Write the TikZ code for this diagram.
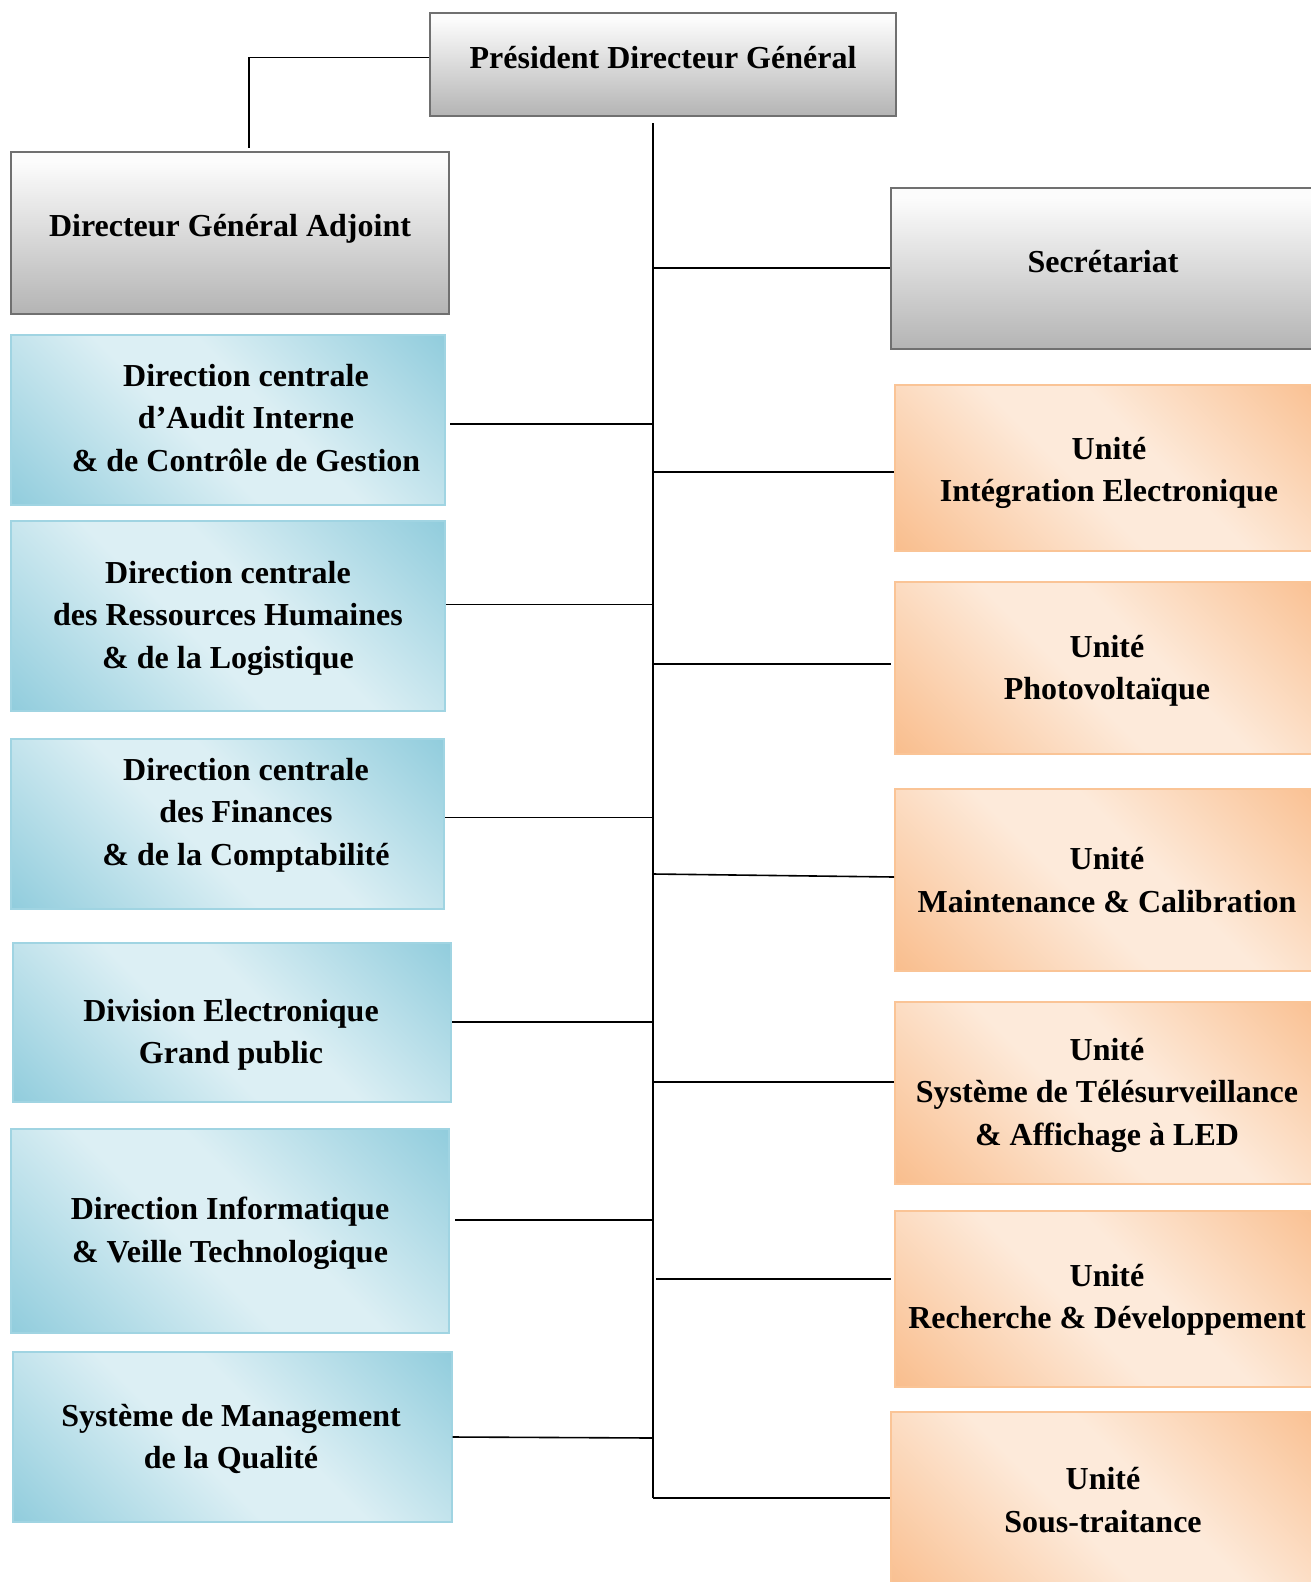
\documentclass[tikz,border=0pt]{standalone}
\usepackage{fontspec}
\setmainfont{Liberation Serif}
\definecolor{gtop}{RGB}{252,252,252}
\definecolor{gbot}{RGB}{154,154,154}
\definecolor{gline}{RGB}{112,112,112}
\definecolor{bdark}{RGB}{146,205,221}
\definecolor{blight}{RGB}{220,239,244}
\definecolor{bline}{RGB}{160,212,226}
\definecolor{odark}{RGB}{249,190,142}
\definecolor{olight}{RGB}{253,234,218}
\definecolor{oline}{RGB}{250,196,150}
\pgfdeclareverticalshading{grayfade}{100bp}{color(0bp)=(gbot); color(8bp)=(gbot); color(72bp)=(gtop); color(100bp)=(gtop)}
\pgfdeclareverticalshading{blueband}{100bp}{color(0bp)=(bdark); color(15bp)=(bdark); color(44bp)=(blight); color(56bp)=(blight); color(85bp)=(bdark); color(100bp)=(bdark)}
\pgfdeclareverticalshading{orangeband}{100bp}{color(0bp)=(odark); color(15bp)=(odark); color(44bp)=(olight); color(56bp)=(olight); color(85bp)=(odark); color(100bp)=(odark)}
\tikzset{
  graybox/.style={draw=gline, line width=2pt, shade, shading=grayfade, inner sep=0pt},
  bluebox/.style={draw=bline, line width=2pt, shade, shading=blueband, shading angle=-45, inner sep=0pt},
  orangebox/.style={draw=oline, line width=2pt, shade, shading=orangeband, shading angle=-45, inner sep=0pt},
  txt/.style={align=center, inner sep=0pt, font=\fontsize{32}{42.5}\selectfont\bfseries},
  conn/.style={draw=black, line width=1.6pt}
}
\begin{document}
\begin{tikzpicture}[x=1pt,y=-1pt]
\useasboundingbox (0,0) rectangle (1311,1582);
\clip (0,0) rectangle (1311,1582);
% boxes
\node[graybox, minimum width=466pt, minimum height=103pt] (pdg) at (663,64.5) {};
\node[graybox, minimum width=438pt, minimum height=162pt] (dga) at (230,233) {};
\node[graybox, minimum width=460pt, minimum height=161pt] (sec) at (1121,268.5) {};
\node[bluebox, minimum width=434pt, minimum height=170pt] (b1) at (228,420) {};
\node[bluebox, minimum width=434pt, minimum height=190pt] (b2) at (228,616) {};
\node[bluebox, minimum width=433pt, minimum height=170pt] (b3) at (227.5,824) {};
\node[bluebox, minimum width=438pt, minimum height=159pt] (b4) at (232,1022.5) {};
\node[bluebox, minimum width=438pt, minimum height=204pt] (b5) at (230,1231) {};
\node[bluebox, minimum width=439pt, minimum height=170pt] (b6) at (232,1437) {};
\node[orangebox, minimum width=440pt, minimum height=166pt] (o1) at (1115,468) {};
\node[orangebox, minimum width=440pt, minimum height=172pt] (o2) at (1115,668) {};
\node[orangebox, minimum width=440pt, minimum height=182pt] (o3) at (1115,880) {};
\node[orangebox, minimum width=440pt, minimum height=182pt] (o4) at (1115,1093) {};
\node[orangebox, minimum width=440pt, minimum height=176pt] (o5) at (1115,1299) {};
\node[orangebox, minimum width=444pt, minimum height=188pt] (o6) at (1113,1506) {};
% texts
\node[txt] (tpdg) at (663,58) {Président Directeur Général};
\node[txt] (tdga) at (230,229) {Directeur Général Adjoint};
\node[txt] (tsec) at (1103,262) {Secrétariat};
\node[txt] (tb1) at (246,418) {Direction centrale\\d’Audit Interne\\\& de Contrôle de Gestion};
\node[txt] (tb2) at (228,618) {Direction centrale\\des Ressources Humaines\\\& de la Logistique};
\node[txt] (tb3) at (246,815) {Direction centrale\\des Finances\\\& de la Comptabilité};
\node[txt] (tb4) at (231,1035) {Division Electronique\\Grand public};
\node[txt] (tb5) at (230,1233) {Direction Informatique\\\& Veille Technologique};
\node[txt] (tb6) at (231,1439) {Système de Management\\de la Qualité};
\node[txt] (to1) at (1109,473) {Unité\\Intégration Electronique};
\node[txt] (to2) at (1107,671) {Unité\\Photovoltaïque};
\node[txt] (to3) at (1107,880) {Unité\\Maintenance \& Calibration};
\node[txt] (to4) at (1107,1095) {Unité\\Système de Télésurveillance\\\& Affichage à LED};
\node[txt] (to5) at (1107,1300) {Unité\\Recherche \& Développement};
\node[txt] (to6) at (1103,1500) {Unité\\Sous-traitance};
% connectors
\coordinate (dgatop) at (249,148);
\draw[conn] ([yshift=7pt]pdg.west) -| (dgatop);
\coordinate (ttop) at (653,123);
\coordinate (tbot) at (653,1498);
\draw[conn] (ttop) -- (tbot);
\coordinate (jsec) at (653,268);
\coordinate (jb1) at (653,424);
\coordinate (jo1) at (653,472);
\coordinate (jb2) at (653,604.5);
\coordinate (jo2) at (653,664);
\coordinate (jb3) at (653,817.5);
\coordinate (jo3) at (653,874);
\coordinate (jb4) at (653,1022);
\coordinate (jo4) at (653,1082);
\coordinate (jb5) at (653,1220);
\coordinate (jo5) at (653,1279);
\coordinate (jb6) at (653,1438);
\draw[conn] (jsec) -- (jsec -| sec.west);
\draw[conn, shorten >=4pt] (jb1) -- (jb1 -| b1.east);
\draw[conn] (jo1) -- (jo1 -| o1.west);
\draw[conn] (jb2) -- (jb2 -| b2.east);
\draw[conn, shorten >=3pt] (jo2) -- (jo2 -| o2.west);
\draw[conn] (jb3) -- (jb3 -| b3.east);
\draw[conn] (jo3) -- ([yshift=3pt]o3.west);
\draw[conn] (jb4) -- (jb4 -| b4.east);
\draw[conn] (jo4) -- (jo4 -| o4.west);
\draw[conn, shorten >=5pt] (jb5) -- (jb5 -| b5.east);
\draw[conn, shorten <=3pt, shorten >=3pt] (jo5) -- (jo5 -| o5.west);
\draw[conn] (jb6) -- (b6.east);
\draw[conn] (tbot) -- (tbot -| o6.west);
\end{tikzpicture}
\end{document}
